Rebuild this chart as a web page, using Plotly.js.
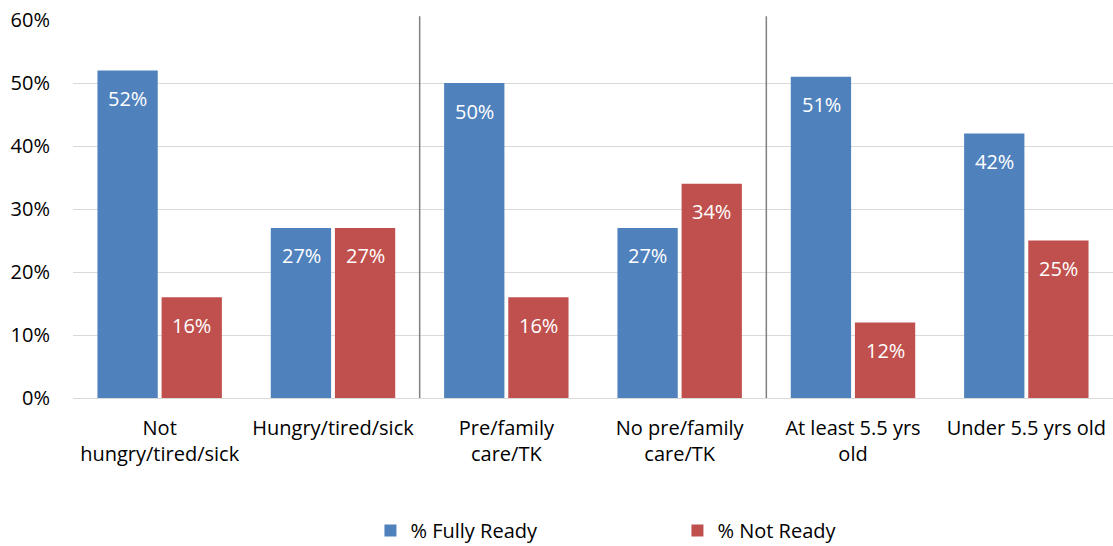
<!DOCTYPE html>
<html>
<head>
<meta charset="utf-8">
<script src="https://cdn.plot.ly/plotly-3.0.1.min.js"></script>
<style>
  html, body { margin: 0; padding: 0; background: #fff; }
  #chart { width: 1113px; height: 546px; }
</style>
</head>
<body>
<div id="chart"></div>
<script>
// Readiness by condition group
const categories = [
  "Not<br>hungry/tired/sick",
  "Hungry/tired/sick",
  "Pre/family<br>care/TK",
  "No pre/family<br>care/TK",
  "At least 5.5 yrs<br>old",
  "Under 5.5 yrs old"
];
const fullyReady = [52, 27, 50, 27, 51, 42];
const notReady = [16, 27, 16, 34, 12, 25];
const seriesNames = ["% Fully Ready", "% Not Ready"];
const yTicks = [0, 10, 20, 30, 40, 50, 60];
const yTickLabels = yTicks.map(v => v + "%");
// group dividers sit between category pairs
const dividers = [1.5, 3.5];

const FONT = "Open Sans, Noto Sans, sans-serif";
const BAR_OFFSET = 32;   // px from category centre to each bar centre
const LABEL_DROP = -28;  // px below the bar top for the value label

function barTrace(name, values, color) {
  return {
    type: "bar",
    name: name,
    x: categories,
    y: values,
    marker: { color: color },
    hoverinfo: "skip"
  };
}

// value labels sitting inside the top of each bar
function valueLabels(values, side) {
  return values.map((v, i) => ({
    x: categories[i],
    y: v,
    xref: "x",
    yref: "y",
    text: v + "%",
    showarrow: false,
    xanchor: "center",
    yanchor: "middle",
    xshift: side * BAR_OFFSET,
    yshift: LABEL_DROP,
    font: { color: "#ffffff", size: 20, family: FONT }
  }));
}

const data = [
  barTrace(seriesNames[0], fullyReady, "#4F81BD"),
  barTrace(seriesNames[1], notReady, "#C0504D")
];

const layout = {
  width: 1113,
  height: 546,
  margin: { l: 73, r: 0, t: 20, b: 148, autoexpand: false },
  paper_bgcolor: "#ffffff",
  plot_bgcolor: "#ffffff",
  barmode: "group",
  bargap: 0.26,
  bargroupgap: 0.06,
  font: { family: FONT, size: 20, color: "#000000" },
  showlegend: true,
  legend: {
    orientation: "h",
    x: 0.286,
    xanchor: "left",
    y: -0.402,
    yanchor: "bottom",
    entrywidth: 262,
    entrywidthmode: "pixels",
    font: { size: 20, family: FONT },
    itemsizing: "constant"
  },
  xaxis: {
    type: "category",
    showgrid: false,
    showline: false,
    zeroline: false,
    ticks: "outside",
    ticklen: 12,
    tickcolor: "rgba(0,0,0,0)",
    tickfont: { size: 20, family: FONT },
    fixedrange: true
  },
  yaxis: {
    range: [0, 60],
    tickvals: yTicks,
    ticktext: yTickLabels,
    showgrid: true,
    gridcolor: "#d9d9d9",
    gridwidth: 1,
    zeroline: true,
    zerolinecolor: "#d9d9d9",
    zerolinewidth: 1,
    showline: false,
    ticks: "outside",
    ticklen: 18,
    tickcolor: "rgba(0,0,0,0)",
    tickfont: { size: 20, family: FONT },
    fixedrange: true
  },
  annotations: valueLabels(fullyReady, -1).concat(valueLabels(notReady, 1)),
  shapes: dividers.map(xv => ({
    type: "line",
    xref: "x",
    yref: "paper",
    x0: xv, x1: xv,
    y0: 0, y1: 1.01,
    line: { color: "#808080", width: 1.5 }
  }))
};

Plotly.newPlot("chart", data, layout, { staticPlot: true, displayModeBar: false });
</script>
</body>
</html>
